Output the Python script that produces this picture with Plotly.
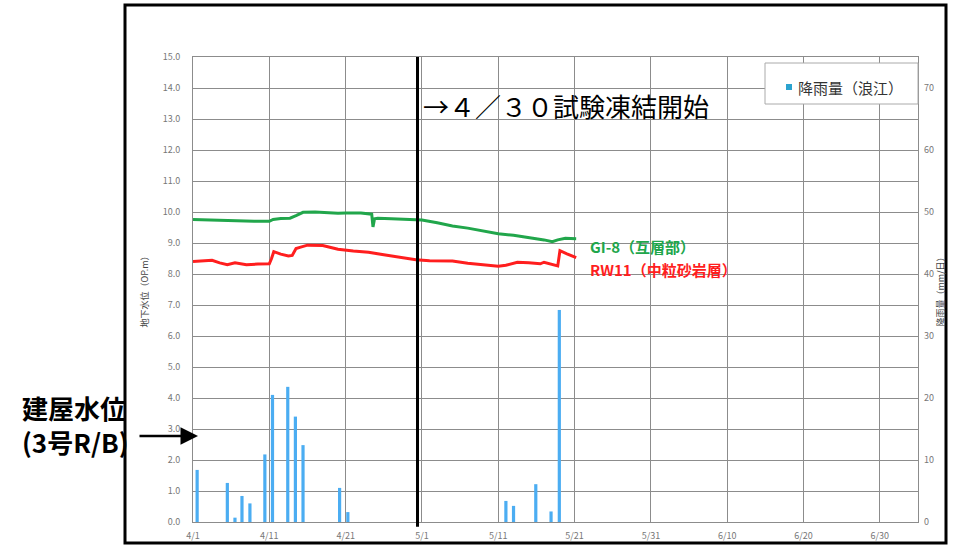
import plotly.graph_objects as go

# ---- data ----
gi8_time = ["2015-04-01 00:00", "2015-04-03 00:00", "2015-04-05 00:00", "2015-04-07 00:00",
            "2015-04-09 00:00", "2015-04-11 00:00", "2015-04-11 12:00", "2015-04-12 12:00",
            "2015-04-13 17:00", "2015-04-14 12:00", "2015-04-15 10:00", "2015-04-17 00:00",
            "2015-04-19 00:00", "2015-04-20 00:00", "2015-04-21 00:00", "2015-04-22 00:00",
            "2015-04-23 00:00", "2015-04-24 10:00", "2015-04-24 14:00", "2015-04-24 19:00",
            "2015-04-25 05:00", "2015-04-27 00:00", "2015-04-29 00:00", "2015-04-30 05:00",
            "2015-05-01 00:00", "2015-05-03 00:00", "2015-05-05 00:00", "2015-05-07 00:00",
            "2015-05-09 00:00", "2015-05-11 00:00", "2015-05-13 00:00", "2015-05-15 00:00",
            "2015-05-17 00:00", "2015-05-18 02:00", "2015-05-18 19:00", "2015-05-19 19:00",
            "2015-05-21 05:00"]
gi8_level = [9.76, 9.74, 9.72, 9.72, 9.70, 9.70, 9.76, 9.79, 9.80, 9.88, 9.99, 10.00,
             9.97, 9.96, 9.97, 9.96, 9.97, 9.93, 9.52, 9.78, 9.80, 9.78, 9.76, 9.75,
             9.74, 9.65, 9.55, 9.48, 9.38, 9.30, 9.25, 9.18, 9.10, 9.04, 9.10, 9.15, 9.14]

rw11_time = ["2015-04-01 00:00", "2015-04-02 12:00", "2015-04-03 12:00", "2015-04-04 12:00",
             "2015-04-05 12:00", "2015-04-06 12:00", "2015-04-08 00:00", "2015-04-09 12:00",
             "2015-04-11 00:00", "2015-04-11 07:00", "2015-04-11 14:00", "2015-04-12 12:00",
             "2015-04-13 12:00", "2015-04-14 00:00", "2015-04-14 12:00", "2015-04-15 00:00",
             "2015-04-16 00:00", "2015-04-18 00:00", "2015-04-20 00:00", "2015-04-22 00:00",
             "2015-04-24 00:00", "2015-04-26 00:00", "2015-04-28 00:00", "2015-04-30 05:00",
             "2015-05-02 00:00", "2015-05-05 00:00", "2015-05-07 00:00", "2015-05-09 00:00",
             "2015-05-11 00:00", "2015-05-12 00:00", "2015-05-13 12:00", "2015-05-15 00:00",
             "2015-05-16 12:00", "2015-05-17 00:00", "2015-05-18 12:00", "2015-05-18 19:00",
             "2015-05-19 02:00", "2015-05-19 12:00", "2015-05-20 00:00", "2015-05-21 05:00"]
rw11_level = [8.40, 8.42, 8.44, 8.36, 8.30, 8.36, 8.30, 8.32, 8.33, 8.50, 8.72, 8.64,
              8.58, 8.60, 8.82, 8.86, 8.93, 8.92, 8.80, 8.74, 8.70, 8.62, 8.55, 8.46,
              8.43, 8.42, 8.35, 8.30, 8.25, 8.28, 8.38, 8.36, 8.33, 8.38, 8.28, 8.26,
              8.75, 8.70, 8.65, 8.53]

rain_time = ["2015-04-01 13:00", "2015-04-05 12:00", "2015-04-06 12:00", "2015-04-07 10:00",
             "2015-04-08 11:00", "2015-04-10 10:00", "2015-04-11 10:00", "2015-04-13 10:00",
             "2015-04-14 10:00", "2015-04-15 10:00", "2015-04-20 05:00", "2015-04-21 07:00",
             "2015-05-12 00:00", "2015-05-13 00:00", "2015-05-15 22:00", "2015-05-17 22:00",
             "2015-05-19 00:00"]
rain_mm = [8.4, 6.3, 0.7, 4.2, 3.0, 10.9, 20.5, 21.8, 17.0, 12.4, 5.5, 1.6,
           3.4, 2.6, 6.1, 1.7, 34.2]

x_tickvals = ["2015-04-01", "2015-04-11", "2015-04-21", "2015-05-01", "2015-05-11",
              "2015-05-21", "2015-05-31", "2015-06-10", "2015-06-20", "2015-06-30"]
x_ticktext = ["4/1", "4/11", "4/21", "5/1", "5/11", "5/21", "5/31", "6/10", "6/20", "6/30"]
freeze_start = "2015-04-30 10:00"

JP = "Noto Sans CJK JP"
GRID = "#8c8c8c"
TICK_FONT = dict(family=JP, size=9, color="#777777")
RAIN_BLUE = "#4badf2"


def px_x(px):
    """Horizontal pixel in the 966-wide page -> paper fraction of the plot area."""
    return (px - 193) / 725


def px_y(px):
    """Vertical pixel in the 545-high page -> paper fraction of the plot area."""
    return (522 - px) / 465


fig = go.Figure()

fig.add_trace(go.Bar(
    x=rain_time, y=rain_mm, yaxis="y2", name="降雨量（浪江）",
    marker=dict(color=RAIN_BLUE, line=dict(width=0)),
    width=0.42 * 86400000, showlegend=False,
))
fig.add_trace(go.Scatter(
    x=gi8_time, y=gi8_level, mode="lines", name="GI-8（互層部）",
    line=dict(color="#21a64b", width=3), showlegend=False,
))
fig.add_trace(go.Scatter(
    x=rw11_time, y=rw11_level, mode="lines", name="RW11（中粒砂岩層）",
    line=dict(color="#ff1e1e", width=3), showlegend=False,
))

fig.update_layout(
    width=966, height=545,
    margin=dict(l=193, r=48, t=57, b=23),
    paper_bgcolor="white", plot_bgcolor="white",
    font=dict(family=JP),
    showlegend=False,
    xaxis=dict(
        type="date", range=["2015-04-01", "2015-07-05"], automargin=False,
        tickvals=x_tickvals, ticktext=x_ticktext, tickfont=TICK_FONT,
        ticklabelstandoff=5,
        showgrid=True, gridcolor=GRID, gridwidth=1,
        showline=True, linecolor=GRID, linewidth=1, mirror=True,
        ticks="", zeroline=False,
    ),
    yaxis=dict(
        range=[0, 15], dtick=1, tickformat=".1f", tickfont=TICK_FONT, automargin=False,
        ticklabelstandoff=10,
        showgrid=True, gridcolor=GRID, gridwidth=1,
        showline=True, linecolor=GRID, linewidth=1, mirror=True,
        ticks="", zeroline=False,
        title=dict(text="地下水位（OP.m）", font=dict(family=JP, size=9, color="#444444"),
                   standoff=12),
    ),
    yaxis2=dict(
        range=[0, 75], tickvals=[0, 10, 20, 30, 40, 50, 60, 70], tickfont=TICK_FONT,
        ticklabelstandoff=5, automargin=False,
        overlaying="y", side="right", showgrid=False, zeroline=False, ticks="",
        title=dict(text="降雨量（mm/日）", font=dict(family=JP, size=9, color="#444444"),
                   standoff=0),
    ),
)

# test-freezing start marker
fig.add_shape(type="line", xref="x", yref="paper", x0=freeze_start, x1=freeze_start,
              y0=-0.01, y1=1.0, line=dict(color="black", width=3))

# rainfall legend box
fig.add_shape(type="rect", xref="paper", yref="paper",
              x0=px_x(765), x1=1.0, y0=px_y(104), y1=px_y(63),
              line=dict(color="#aaaaaa", width=1), fillcolor="white", layer="above")
fig.add_shape(type="rect", xref="paper", yref="paper",
              x0=px_x(786), x1=px_x(792), y0=px_y(90), y1=px_y(84),
              line=dict(width=0), fillcolor="#2ba3cf", layer="above")

# outer frame
fig.add_shape(type="rect", xref="paper", yref="paper",
              x0=px_x(125), x1=px_x(946), y0=px_y(543), y1=px_y(5),
              line=dict(color="black", width=3), fillcolor="rgba(0,0,0,0)", layer="above")

annotations = [
    dict(text="降雨量（浪江）", xref="paper", yref="paper", x=px_x(796), y=px_y(87),
         xanchor="left", yanchor="middle", showarrow=False,
         font=dict(family=JP, size=15, color="#333333")),
    dict(text="→４／３０試験凍結開始", xref="paper", yref="paper", x=px_x(421), y=px_y(105),
         xanchor="left", yanchor="middle", showarrow=False,
         font=dict(family=JP, size=26, color="black")),
    dict(text="<b>GI-8（互層部）</b>", xref="x", yref="y", x="2015-05-22 18:00", y=8.9,
         xanchor="left", yanchor="middle", showarrow=False,
         font=dict(family=JP, size=15, color="#21a64b")),
    dict(text="<b>RW11（中粒砂岩層）</b>", xref="x", yref="y", x="2015-05-22 18:00", y=8.13,
         xanchor="left", yanchor="middle", showarrow=False,
         font=dict(family=JP, size=15, color="#ff1e1e")),
    dict(text="<b>建屋水位<br>(3号R/B)</b>", xref="paper", yref="paper", x=px_x(20),
         y=px_y(424), xanchor="left", yanchor="middle", align="left", showarrow=False,
         font=dict(family=JP, size=26, color="black")),
    dict(text="", xref="paper", yref="paper", x=px_x(198), y=px_y(436),
         ax=-60, ay=0, showarrow=True, arrowhead=2, arrowsize=1.4, arrowwidth=2.5,
         arrowcolor="black"),
]
fig.update_layout(annotations=annotations)

fig.write_html("out.html")
